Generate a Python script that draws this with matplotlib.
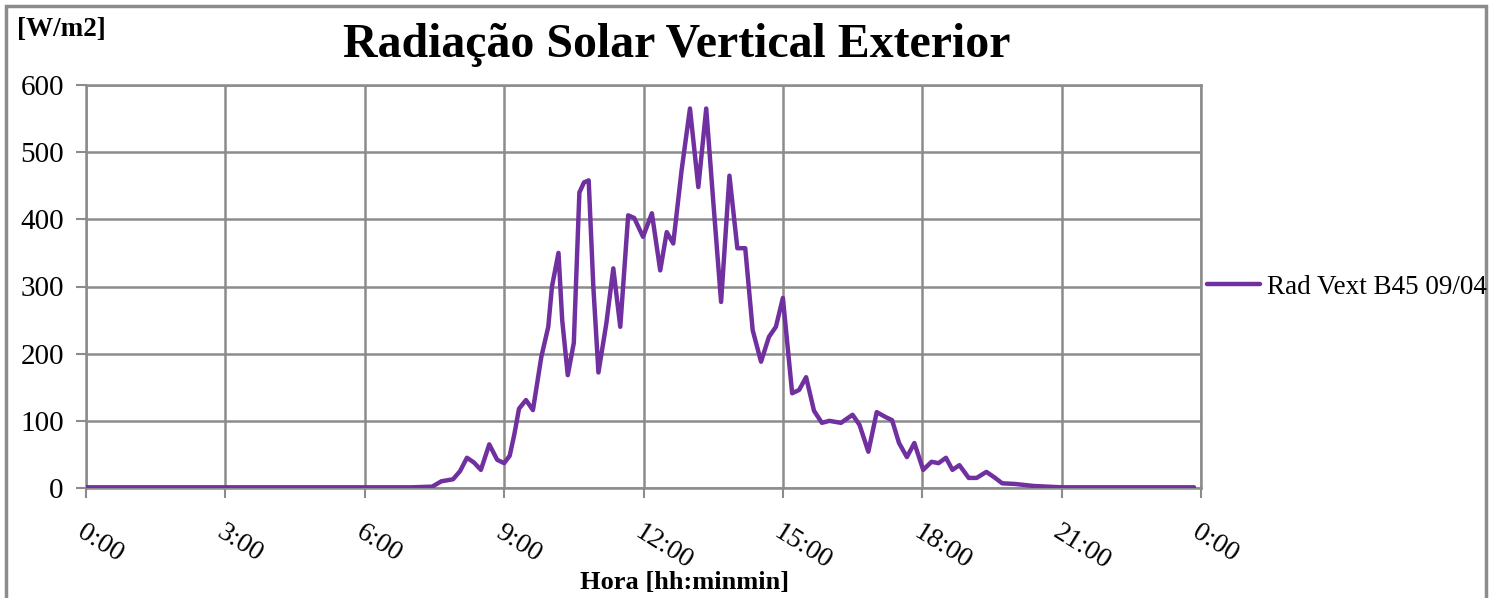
import matplotlib
matplotlib.use("Agg")
import matplotlib.pyplot as plt
from matplotlib.patches import Rectangle

# ---- data (hours, W/m2) ----
hours = [0.0, 1.0, 2.0, 3.0, 4.0, 5.0, 6.0, 7.0, 7.45, 7.65, 7.9, 8.05, 8.2, 8.35,
         8.5, 8.68, 8.85, 9.0, 9.12, 9.22, 9.32, 9.47, 9.62, 9.8, 9.95, 10.03,
         10.17, 10.25, 10.37, 10.5, 10.62, 10.72, 10.82, 10.92, 11.03, 11.2,
         11.35, 11.5, 11.67, 11.8, 11.99, 12.18, 12.36, 12.5, 12.64, 12.82,
         13.0, 13.18, 13.35, 13.5, 13.67, 13.85, 14.02, 14.19, 14.35, 14.53,
         14.7, 14.85, 15.0, 15.2, 15.35, 15.5, 15.67, 15.84, 16.0, 16.25, 16.5,
         16.65, 16.84, 17.02, 17.2, 17.35, 17.5, 17.67, 17.83, 18.02, 18.2,
         18.35, 18.51, 18.65, 18.8, 19.0, 19.17, 19.38, 19.55, 19.72, 20.0,
         20.4, 20.7, 21.0, 22.0, 23.0, 23.85]
rad = [1, 1, 1, 1, 1, 1, 1, 1, 2, 10, 13, 25, 45, 38,
       27, 65, 42, 37, 48, 80, 118, 131, 116, 195, 240, 300,
       350, 250, 168, 216, 440, 455, 458, 300, 172, 245,
       327, 240, 406, 402, 374, 409, 324, 381, 364, 473,
       565, 448, 565, 428, 277, 465, 357, 357, 235, 188,
       225, 240, 283, 141, 146, 165, 115, 97, 100, 97, 109,
       94, 54, 113, 106, 101, 67, 46, 67, 27, 39,
       37, 45, 27, 34, 15, 15, 24, 16, 7, 6,
       3, 2, 1, 1, 1, 1]

xtick_pos = [0, 3, 6, 9, 12, 15, 18, 21, 24]
xtick_labels = ["0:00", "3:00", "6:00", "9:00", "12:00", "15:00", "18:00", "21:00", "0:00"]
ytick_pos = [0, 100, 200, 300, 400, 500, 600]
series_name = "Rad Vext B45 09/04"

W, H = 1499, 598
fig = plt.figure(figsize=(W / 100, H / 100), dpi=100)
serif = ["Liberation Serif", "DejaVu Serif"]
grid_c = "#8c8c8c"
line_c = "#7030a0"

ax = fig.add_axes([86 / W, 1 - 488 / H, (1201 - 86) / W, (488 - 85) / H])
ax.plot(hours, rad, color=line_c, lw=3.2, solid_capstyle="round", solid_joinstyle="round",
        label=series_name, zorder=3)
ax.set_xlim(0, 24)
ax.set_ylim(0, 600)
ax.set_xticks(xtick_pos)
ax.set_xticklabels(xtick_labels, rotation=-32, ha="left", va="top",
                   rotation_mode="anchor", family=serif, fontsize=20)
ax.set_yticks(ytick_pos)
ax.set_yticklabels([str(v) for v in ytick_pos], family=serif, fontsize=21)
ax.grid(True, color=grid_c, lw=1.8)
ax.set_axisbelow(True)
for s in ax.spines.values():
    s.set_color(grid_c)
    s.set_linewidth(1.8)
ax.tick_params(axis="both", color=grid_c, length=7, width=1.5)
ax.tick_params(axis="x", pad=16)
ax.tick_params(axis="y", pad=9)

fig.text(677 / W, 1 - 45 / H, "Radiação Solar Vertical Exterior", ha="center", va="center",
         family=serif, fontsize=34.5, fontweight="bold")
fig.text(17 / W, 1 - 30 / H, "[W/m2]", ha="left", va="center", family=serif,
         fontsize=19.5, fontweight="bold")
fig.text(685 / W, 1 - 583 / H, "Hora [hh:minmin]", ha="center", va="center", family=serif,
         fontsize=19, fontweight="bold")

leg = fig.legend(loc="center left", bbox_to_anchor=(1207 / W, 1 - 287 / H), frameon=False,
                 prop={"family": serif, "size": 19.5}, handlelength=1.95, handletextpad=0.25,
                 borderaxespad=0, borderpad=0)

fig.patches.append(Rectangle((6 / W, -0.05), (1486 - 6) / W, 1.05 - 6 / H,
                             transform=fig.transFigure, fill=False, edgecolor=grid_c, lw=2.5))

fig.savefig("out.png", dpi=100)
